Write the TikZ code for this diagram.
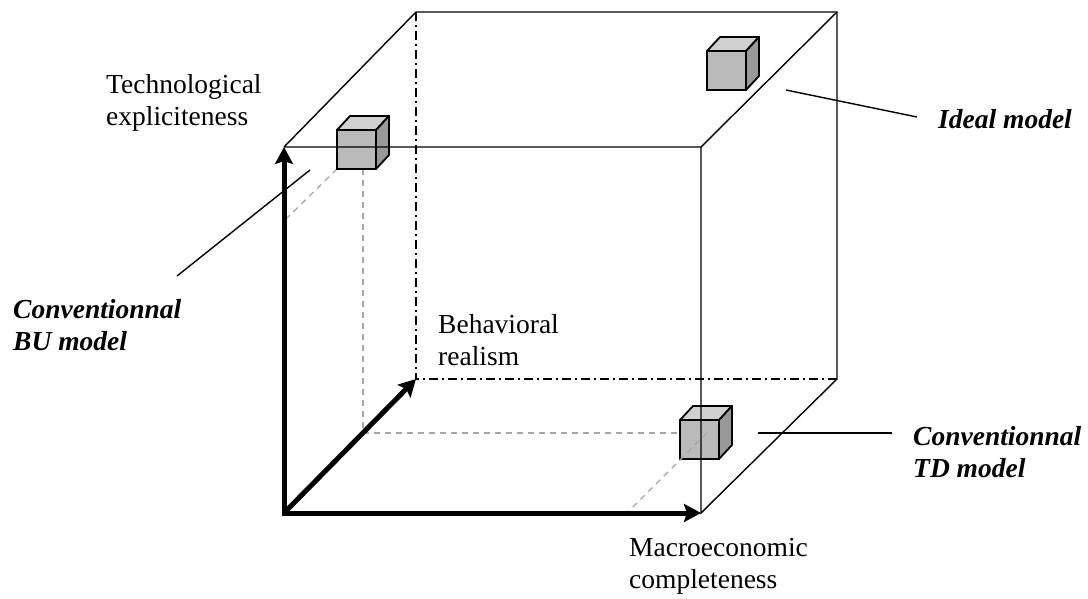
\documentclass[tikz,border=0pt]{standalone}
\usepackage{fontspec}
\setmainfont{Liberation Serif}
\usetikzlibrary{arrows.meta}

\tikzset{
    achse/.style={line width=5pt, line cap=rect, -{Stealth[length=17pt,width=18pt,inset=3pt]}},
    kante/.style={line width=1.4pt},
    strichpunkt/.style={line width=1.4pt, dash pattern=on 9pt off 4pt on 2pt off 4pt},
    hilfslinie/.style={line width=1.3pt, black!35, dash pattern=on 6pt off 5pt},
    beschriftung/.style={anchor=base west, inner sep=0pt, align=left, font=\fontsize{27.5}{32}\selectfont},
    modell/.style={beschriftung, font=\fontsize{27.5}{32}\selectfont\bfseries\itshape},
    modelcube/.pic={
        \draw[line width=1.8pt, fill=black!27] (0,0) rectangle (39,39);
        \draw[line width=1.8pt, fill=black!18, line join=round] (0,0) -- (13,-14) -- (52,-14) -- (39,0) -- cycle;
        \draw[line width=1.8pt, fill=black!40, line join=round] (39,0) -- (52,-14) -- (52,25) -- (39,39) -- cycle;
    }
}

\begin{document}
\begin{tikzpicture}[x=1pt, y=-1pt]
    \useasboundingbox (0,0) rectangle (1088,598);

    % Ecken des Wuerfels
    \coordinate (O) at (284,513);
    \coordinate (A) at (284,147);
    \coordinate (B) at (701,147);
    \coordinate (C) at (701,513);
    \coordinate (D) at (416,12);
    \coordinate (E) at (837,12);
    \coordinate (F) at (837,379);
    \coordinate (G) at (416,379);

    % Hilfslinien
    \coordinate (bufoot) at (337,169);
    \coordinate (buside) at (287,218);
    \coordinate (butop) at (363,169);
    \coordinate (buground) at (363,433);
    \coordinate (tdback) at (707,433);
    \coordinate (tdfront) at (627,513);
    \draw[hilfslinie] (bufoot) -- (buside);
    \draw[hilfslinie] (butop) -- (buground) -- (tdback);

    % Modelle
    \pic at (337,130) {modelcube};
    \pic at (680,420) {modelcube};
    \pic at (707,51) {modelcube};
    \draw[hilfslinie] (tdback) -- (tdfront);

    % Kanten
    \draw[kante] (A) -- (B) -- (C) -- (F) -- (E) -- (D) -- (A);
    \draw[kante] (B) -- (E);
    \draw[strichpunkt] (D) -- (G) -- (F);

    % Zeiger
    \coordinate (idealfrom) at (786,90);
    \coordinate (idealto) at (917,117);
    \coordinate (bufrom) at (310,170);
    \coordinate (buto) at (177,276);
    \coordinate (tdfrom) at (758,433);
    \coordinate (tdto) at (892,433);
    \draw[kante] (idealfrom) -- (idealto);
    \draw[kante] (bufrom) -- (buto);
    \draw[kante] (tdfrom) -- (tdto);

    % Achsen
    \draw[achse] (O) -- (A);
    \draw[achse] (O) -- (C);
    \draw[achse, line cap=butt] (O) -- (G);

    % Beschriftung
    \node[beschriftung] (tech) at (106,125) {Technological\\expliciteness};
    \node[beschriftung] (behav) at (438,365) {Behavioral\\realism};
    \node[beschriftung] (macro) at (629,588) {Macroeconomic\\completeness};
    \node[modell] (ideal) at (938,128) {Ideal model};
    \node[modell] (bu) at (13,350) {Conventionnal\\BU model};
    \node[modell] (td) at (913,477) {Conventionnal\\TD model};
\end{tikzpicture}
\end{document}
